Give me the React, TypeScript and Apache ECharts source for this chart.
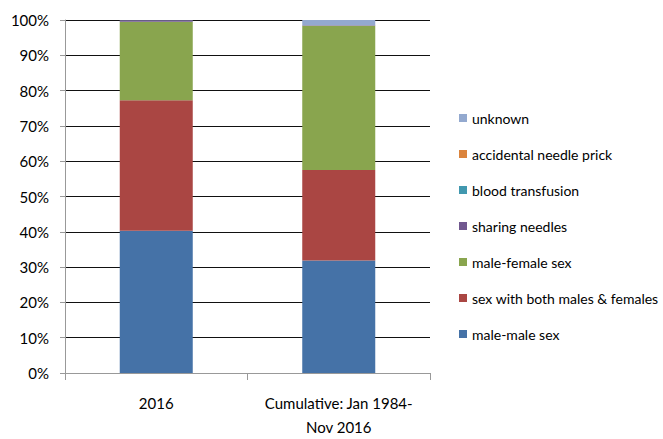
import React, { useEffect, useRef } from "react";
import * as echarts from "echarts";

const categories = ["2016", "Cumulative: Jan 1984-\nNov 2016"];
const seriesNames = [
  "male-male sex",
  "sex with both males & females",
  "male-female sex",
  "sharing needles",
  "blood transfusion",
  "accidental needle prick",
  "unknown",
];
const maleMale = [40.3, 31.9];
const bothSexes = [37.0, 25.6];
const maleFemale = [22.2, 40.9];
const sharingNeedles = [0.4, 0.1];
const bloodTransfusion = [0, 0];
const needlePrick = [0, 0];
const unknown = [0.1, 1.5];
const yTicks = [0, 10, 20, 30, 40, 50, 60, 70, 80, 90, 100];
const colors = ["#4572A7", "#AA4643", "#89A54E", "#71588F", "#4198AF", "#DB843D", "#93A9CF"];

const FONT = "Lato, 'Open Sans', sans-serif";

export default function App() {
  const ref = useRef<HTMLDivElement>(null);
  useEffect(() => {
    document.body.style.margin = "0";
    if (!ref.current) return;
    const chart = echarts.init(ref.current, null, { renderer: "svg" });
    const values = [maleMale, bothSexes, maleFemale, sharingNeedles, bloodTransfusion, needlePrick, unknown];
    chart.setOption({
      animation: false,
      color: colors,
      textStyle: { fontFamily: FONT },
      grid: { left: 65, right: 233, top: 20, bottom: 63 },
      legend: {
        orient: "vertical",
        left: 454,
        top: 103,
        itemWidth: 8,
        itemHeight: 8,
        itemGap: 16,
        icon: "rect",
        data: [...seriesNames].reverse(),
        textStyle: { fontSize: 14, color: "#000", fontFamily: FONT, lineHeight: 20 },
      },
      xAxis: {
        type: "category",
        data: categories,
        axisLine: { lineStyle: { color: "#999", width: 1 } },
        axisTick: { show: true, length: 7, lineStyle: { color: "#999" } },
        axisLabel: { interval: 0, color: "#000", fontSize: 15, lineHeight: 24, margin: 18, fontFamily: FONT },
      },
      yAxis: {
        type: "value",
        min: 0,
        max: 100,
        interval: 10,
        axisLine: { show: true, lineStyle: { color: "#999" } },
        axisTick: { show: true, length: 5, lineStyle: { color: "#999" } },
        axisLabel: {
          color: "#000",
          fontSize: 15,
          margin: 16,
          fontFamily: FONT,
          formatter: (v: number) => (yTicks.includes(v) ? v + "%" : ""),
        },
        splitLine: { lineStyle: { color: "#111", width: 1 } },
      },
      series: seriesNames.map((name, i) => ({
        name,
        type: "bar",
        stack: "total",
        barWidth: "40%",
        data: values[i],
        itemStyle: { color: colors[i] },
      })),
    });
    return () => chart.dispose();
  }, []);
  return <div ref={ref} style={{ width: 663, height: 439 }} />;
}
